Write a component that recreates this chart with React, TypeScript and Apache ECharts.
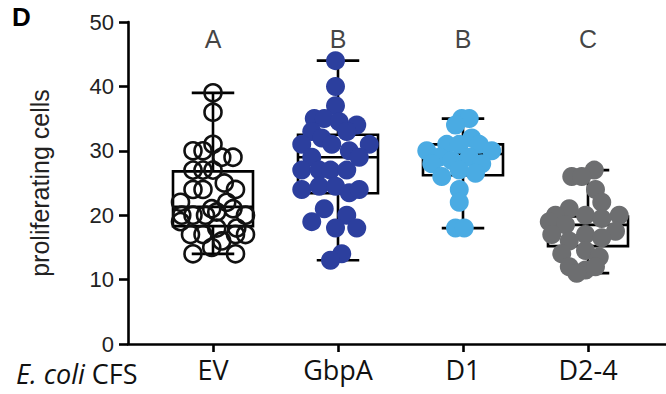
import React, { useEffect, useRef } from "react";
import * as echarts from "echarts";

const CATEGORIES = ["EV", "GbpA", "D1", "D2-4"];
const SIG_LETTERS = ["A", "B", "B", "C"];
const Y_TICKS = [0, 10, 20, 30, 40, 50];
// [min, Q1, median, Q3, max]
const BOX_STATS = [
  [14, 18.3, 21.3, 26.8, 39],
  [13, 23.4, 29, 32.5, 44],
  [18, 26.2, 29.5, 31, 35],
  [11, 15.2, 18.5, 19.8, 27],
];
// [jitter offset from category centre, value]
const EV_POINTS = [
  [0, 39], [0, 36], [0, 31], [-0.16, 30], [-0.08, 30], [0.07, 29], [0.16, 29],
  [-0.16, 27], [-0.08, 27], [0, 27], [-0.16, 24], [-0.08, 24], [0.09, 25], [0.18, 24],
  [-0.26, 22], [-0.01, 21], [0.11, 22], [-0.25, 20], [-0.16, 20], [-0.06, 20],
  [0.03, 20.5], [0.16, 21], [0.26, 20], [-0.26, 19], [0.03, 18], [0.19, 18],
  [-0.18, 17], [-0.08, 17], [0.07, 16], [0.18, 17], [0.26, 17], [-0.16, 14],
  [0.18, 14], [-0.01, 15],
];
const GBPA_POINTS = [
  [-0.02, 44], [-0.02, 40], [-0.02, 37], [-0.19, 35], [-0.11, 35], [0.01, 34.5],
  [0.15, 34], [0.07, 33], [-0.21, 33], [-0.29, 31], [0.25, 31], [-0.13, 32],
  [-0.05, 31], [0.09, 30], [0.17, 29], [-0.21, 29], [-0.29, 27], [-0.15, 27],
  [-0.06, 27], [0.07, 27], [-0.29, 24], [-0.15, 24.5], [-0.02, 24.5], [0.09, 23.5],
  [0.17, 24], [-0.11, 21], [-0.21, 19], [0.07, 20], [-0.02, 18], [0.15, 18],
  [0.03, 14], [-0.06, 13],
];
const D1_POINTS = [
  [-0.01, 35], [0.05, 35], [-0.06, 34], [0.07, 32], [-0.13, 31], [-0.03, 31],
  [0.13, 31], [-0.29, 30], [0.23, 30], [-0.19, 29], [0.05, 29], [-0.09, 28.5],
  [-0.25, 28], [0.15, 28], [-0.17, 26], [-0.03, 27], [0.1, 26.5], [-0.03, 24],
  [-0.03, 22], [-0.06, 18], [0.01, 18],
];
const D24_POINTS = [
  [0.05, 27], [-0.13, 26], [-0.05, 26], [0.06, 24], [0.11, 22], [-0.15, 21],
  [-0.26, 20], [0.25, 20], [-0.31, 19], [-0.02, 20], [0.11, 19.5], [-0.18, 18.5],
  [0.22, 17.5], [-0.29, 17], [-0.02, 17], [0.11, 16.5], [-0.15, 16], [-0.21, 14],
  [-0.02, 14.5], [0.09, 13.5], [-0.15, 12], [-0.02, 11.5], [-0.09, 11], [0.06, 12],
];
const POINT_SETS = [EV_POINTS, GBPA_POINTS, D1_POINTS, D24_POINTS];
const LETTER_Y = 47.3;

const ARIAL = "'Liberation Sans', Arial, Helvetica, sans-serif";
const MYRIAD = "'Open Sans', 'Noto Sans', sans-serif";

export default function App() {
  const ref = useRef<HTMLDivElement>(null);

  useEffect(() => {
    if (!ref.current) return;
    const chart = echarts.init(ref.current, undefined, { renderer: "svg" });

    const boxData = BOX_STATS.map((s, i) => [i + 1, ...s]);

    const pointStyles = [
      { color: "rgba(0,0,0,0)", borderColor: "#111", borderWidth: 2.6, size: 17 },
      { color: "#2c3f9e", borderColor: "#2c3f9e", borderWidth: 0, size: 19 },
      { color: "#4aabe3", borderColor: "#4aabe3", borderWidth: 0, size: 19 },
      { color: "#6d6e70", borderColor: "#6d6e70", borderWidth: 0, size: 19 },
    ];

    const scatterSeries = POINT_SETS.map((pts, i) => ({
      type: "scatter",
      name: CATEGORIES[i],
      z: 3,
      symbol: "circle",
      symbolSize: pointStyles[i].size,
      itemStyle: {
        color: pointStyles[i].color,
        borderColor: pointStyles[i].borderColor,
        borderWidth: pointStyles[i].borderWidth,
        opacity: 1,
      },
      data: pts.map(([o, v]) => [i + 1 + o, v]),
      silent: true,
    }));

    chart.setOption({
      animation: false,
      backgroundColor: "#fff",
      grid: { left: 128, right: 0, top: 22, bottom: 50, containLabel: false },
      xAxis: {
        type: "value",
        min: 0.32,
        max: 4.624,
        splitLine: { show: false },
        axisLine: { show: true, onZero: false, lineStyle: { color: "#000", width: 2.6 } },
        axisTick: {
          show: true,
          customValues: [1, 2, 3, 4],
          length: 8,
          lineStyle: { color: "#000", width: 2.6 },
        },
        axisLabel: {
          customValues: [1, 2, 3, 4],
          formatter: (v: number) => CATEGORIES[Math.round(v) - 1] ?? "",
          fontSize: 27,
          fontFamily: MYRIAD,
          color: "#111",
          margin: 12,
        },
      },
      yAxis: {
        type: "value",
        min: 0,
        max: 50,
        interval: 10,
        name: "proliferating cells",
        nameLocation: "middle",
        nameRotate: 90,
        nameGap: 76,
        nameTextStyle: { fontSize: 25, fontFamily: ARIAL, color: "#222" },
        splitLine: { show: false },
        axisLine: { show: true, lineStyle: { color: "#000", width: 2.6 } },
        axisTick: { show: true, length: 9, lineStyle: { color: "#000", width: 2.6 } },
        axisLabel: {
          fontSize: 22,
          fontFamily: ARIAL,
          color: "#222",
          margin: 14,
          lineHeight: 20,
          formatter: (v: number) => (Y_TICKS.includes(v) ? String(v) : ""),
        },
      },
      graphic: [
        {
          type: "text",
          left: 12,
          top: 4,
          style: { text: "D", font: `bold 26px ${ARIAL}`, fill: "#000" },
        },
        {
          type: "text",
          left: 16,
          top: 360,
          style: {
            text: "{i|E. coli}{s| }{n|CFS}",
            rich: {
              i: { fontSize: 27, lineHeight: 24, fontStyle: "italic", fontFamily: MYRIAD, fill: "#111" },
              s: { fontSize: 27, lineHeight: 24, fontFamily: MYRIAD, fill: "#111", width: 7 },
              n: { fontSize: 27, lineHeight: 24, fontFamily: MYRIAD, fill: "#111" },
            },
          },
        },
      ],
      series: [
        {
          type: "custom",
          z: 2,
          silent: true,
          data: boxData,
          renderItem: (params: any, api: any) => {
            const x = api.value(0);
            const mn = api.coord([x, api.value(1)]);
            const q1 = api.coord([x, api.value(2)]);
            const md = api.coord([x, api.value(3)]);
            const q3 = api.coord([x, api.value(4)]);
            const mx = api.coord([x, api.value(5)]);
            const half = api.size([0.64, 0])[0] / 2;
            const cap = api.size([0.34, 0])[0] / 2;
            const cx = mn[0];
            const st = { stroke: "#000", lineWidth: 2.6, fill: "none" };
            return {
              type: "group",
              children: [
                { type: "line", shape: { x1: cx, y1: mx[1], x2: cx, y2: q3[1] }, style: st },
                { type: "line", shape: { x1: cx, y1: q1[1], x2: cx, y2: mn[1] }, style: st },
                { type: "line", shape: { x1: cx - cap, y1: mx[1], x2: cx + cap, y2: mx[1] }, style: st },
                { type: "line", shape: { x1: cx - cap, y1: mn[1], x2: cx + cap, y2: mn[1] }, style: st },
                {
                  type: "rect",
                  shape: { x: cx - half, y: q3[1], width: half * 2, height: q1[1] - q3[1] },
                  style: st,
                },
                { type: "line", shape: { x1: cx - half, y1: md[1], x2: cx + half, y2: md[1] }, style: st },
              ],
            };
          },
        },
        ...scatterSeries,
        {
          type: "scatter",
          z: 4,
          silent: true,
          symbolSize: 0,
          data: SIG_LETTERS.map((_, i) => [i + 1, LETTER_Y]),
          label: {
            show: true,
            position: "inside",
            formatter: (p: any) => SIG_LETTERS[p.dataIndex],
            fontSize: 25,
            fontFamily: ARIAL,
            color: "#111",
          },
        },
      ],
    });

    return () => chart.dispose();
  }, []);

  return (
    <div
      ref={ref}
      style={{ position: "fixed", left: 0, top: 0, width: 666, height: 394, background: "#fff" }}
    />
  );
}
